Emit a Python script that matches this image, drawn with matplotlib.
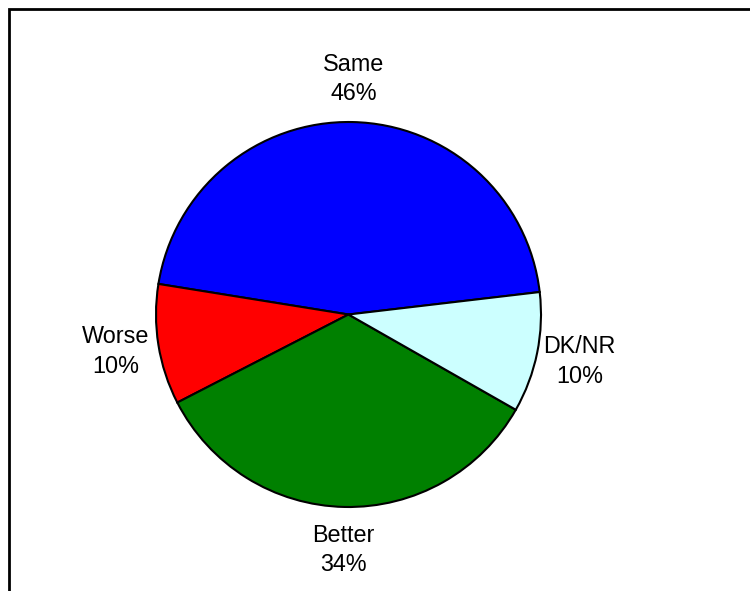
import matplotlib
matplotlib.use("Agg")
import matplotlib.pyplot as plt
from matplotlib.patches import Rectangle

categories = ["Same", "Worse", "Better", "DK/NR"]
values = [45.6, 10.1, 34.2, 10.1]
colors = ["#0000FF", "#FF0000", "#008000", "#CCFFFF"]

W, H = 750, 591
fig = plt.figure(figsize=(W / 100, H / 100), dpi=100)
ax = fig.add_axes([0, 0, 1, 1])

total = sum(values)
labels = [f"{c}\n{round(v / total * 100):.0f}%" for c, v in zip(categories, values)]

wedges, texts = ax.pie(
    values,
    labels=labels,
    colors=colors,
    startangle=6.7,
    counterclock=True,
    center=(348.5, H - 314.5),
    radius=192.5,
    labeldistance=1.225,
    frame=True,
    wedgeprops=dict(edgecolor="black", linewidth=1.5),
    textprops=dict(fontsize=16.8, family=["Liberation Sans", "DejaVu Sans"], color="black"),
)
for t in texts:
    t.set_ha("center")
    t.set_va("center")
    t.set_multialignment("center")
    t.set_linespacing(1.36)

ax.set_xlim(0, W)
ax.set_ylim(0, H)
ax.set_aspect("equal")
ax.axis("off")

# partial frame (top and left edges visible)
fig.patches.append(Rectangle((8.5 / W, -0.1), 1.2, 1 - 9 / H + 0.1,
                             transform=fig.transFigure, fill=False,
                             edgecolor="black", linewidth=2.0))

fig.savefig("out.png", dpi=100, facecolor="white")
